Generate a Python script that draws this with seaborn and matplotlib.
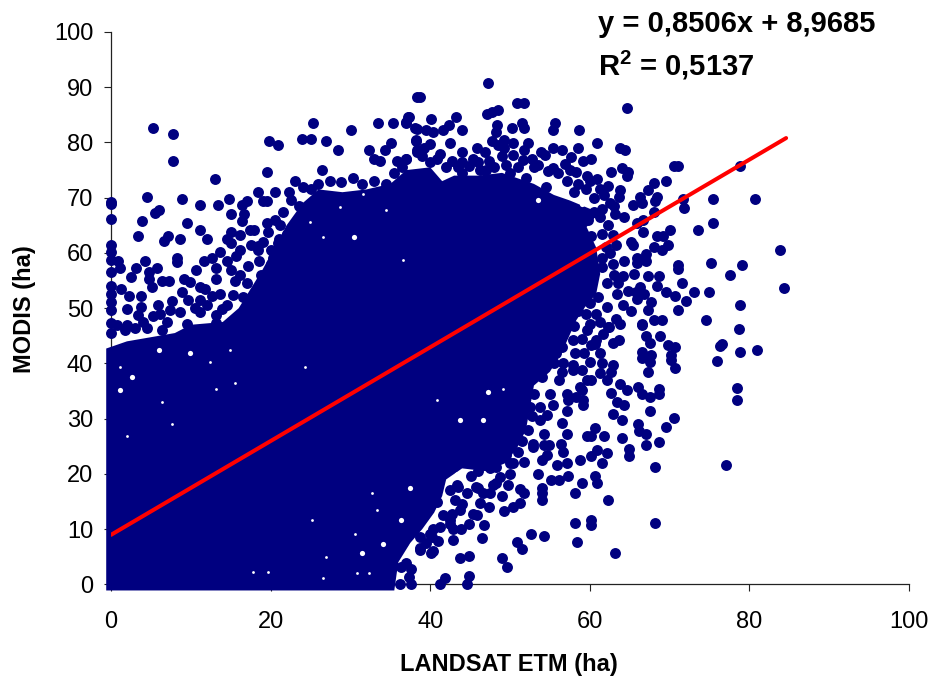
"""Dispersão MODIS x LANDSAT ETM com reta de tendência."""
import matplotlib
matplotlib.use("Agg")
import matplotlib.pyplot as plt
import pandas as pd
import seaborn as sns

# pontos, por região (LANDSAT, MODIS)
pts_left_edge = [(0, 69.2), (0, 68.8), (0, 66.2), (0, 61.4), (0, 60.2), (0, 58.7), (0, 56.5), (0, 54.1),
                 (0, 52.6), (0, 51.1), (0, 49.6), (0, 47.3), (0, 45.5)]
pts_upper_left = [(5.3, 82.65), (7.8, 81.5), (7.8, 76.6), (13.07, 73.4), (19.5, 74.6), (19.8, 80.2), (20.9, 79.5),
                  (23.9, 80.7), (25.1, 80.7), (25.3, 83.5), (27, 80.2), (28.4, 78.7), (30.1, 82.3), (33.4, 83.5),
                  (35.4, 83.5), (37, 83.7), (37.3, 84.7), (38.4, 88.2), (38.1, 82.65), (38.2, 80.2), (38.4, 78.6),
                  (32.3, 78.7), (32.9, 77), (33.7, 76.6), (34.3, 78.7), (35.1, 79.9), (35.9, 76.7), (37, 77),
                  (26.5, 75), (23.1, 73), (4.5, 70.2), (8.9, 69.8), (11.2, 68.6), (13.4, 68.6), (14.8, 69.8),
                  (17, 69.4), (16.4, 68.6), (18.4, 71), (19.1, 69.4), (19.6, 69.4), (20.6, 71), (22.3, 71),
                  (6, 67.8), (5.5, 67.3), (3.9, 65.8), (9.5, 65.4), (15.1, 67), (16.7, 67), (16.4, 65.8),
                  (11.2, 64.2), (3.4, 63), (7.2, 63), (6.6, 62.2), (8.6, 62.6), (12, 62.6), (15, 63.8),
                  (16.2, 63.2), (14.5, 62.6), (17.4, 64.2), (17.9, 64.2), (19.5, 65.4), (19.7, 63.8), (21.2, 65),
                  (24, 72), (25, 71.5), (26, 72.5), (27.5, 73), (28.8, 72.8), (30.3, 73.5), (31.5, 72.5),
                  (33, 73), (34.5, 72.5), (35.5, 74.5), (36.5, 75.5), (22.5, 69.5), (23.5, 68.5), (21.5, 67.5),
                  (20.5, 66), (22, 63.5), (21, 62.5), (19, 62), (17.5, 61.5), (20.3, 59), (18.5, 58.5)]
pts_mid_left = [(0.9, 58.5), (4.2, 58.5), (8.3, 59), (8.3, 58.4), (13.7, 60.2), (16.2, 60.6), (18.4, 61.2),
                (18.4, 60.5), (20, 60.6), (20.9, 61.8), (15.1, 61.8), (15.7, 59.4), (14.5, 58.5), (11.7, 58.5),
                (12.6, 59), (1.1, 57.3), (3.1, 57.3), (5.8, 57.3), (4.8, 56.5), (2.5, 55.6), (10.6, 56.9),
                (13.1, 57.3), (17.2, 57.7), (4.7, 55.3), (6.4, 55), (7.3, 55), (9.1, 55.3), (13.1, 55.3),
                (15.6, 55), (1.3, 53.5), (2.3, 52.2), (5.1, 53.8), (3.8, 52.2), (2, 49.9), (3.4, 48.7),
                (3.8, 50.2), (5.3, 48.5), (5.9, 50.5), (7.6, 51.3), (8.9, 52.9), (9.9, 54.7), (11.2, 53.8),
                (11.8, 53.5), (9.7, 51.4), (12.6, 52.2), (11.2, 51.4), (13.7, 52.6), (15.3, 52.3), (8.6, 49.3),
                (7.4, 49.6), (11.2, 49.3), (13.9, 49.9), (13.2, 48.7), (13.1, 47.3), (1.8, 46), (6.4, 46),
                (9.5, 47.2), (0.8, 47), (3, 46.5), (4.5, 46.5), (14.5, 46.5), (16, 48), (17, 50), (18, 53),
                (19.5, 55), (20, 58), (21.5, 60), (2, 47), (4, 47.5), (7, 47.5), (6.2, 49), (10.5, 50), (12, 50.5),
                (14.5, 50.5), (16.5, 52), (17, 54.5), (16.2, 56), (18.8, 56), (15, 57)]
pts_top = [(38.7, 88.3), (47.3, 90.7), (50.9, 87.1), (51.8, 87.1), (64.6, 86.3), (48.5, 85.9), (47.8, 85.5),
           (47.1, 85.1), (37.2, 84.7), (37, 83.5), (40.1, 84.3), (43.2, 84.7), (42.4, 83.1), (41.6, 82.3),
           (44, 82.3), (55.6, 83.5), (55.4, 82.3), (58.7, 82.3), (51.5, 83.5), (51.8, 82.6), (48.4, 83.1),
           (48.3, 81.9), (50.2, 82.6), (38.3, 82.5), (39.5, 82.2), (40.4, 81.9), (38.2, 80.4), (40, 79.8),
           (42.5, 79.9), (47.7, 80.2), (50.4, 79.9), (52.3, 79.9), (51.7, 78.7), (60.9, 79.9), (58.5, 79),
           (63.8, 79), (64.4, 78.7), (44, 78.2), (45.9, 79), (46.9, 78.2), (55.4, 79), (56.5, 78.7),
           (53.9, 78.2), (37, 77), (38.3, 78.2), (41.2, 78), (45.4, 77), (47.4, 76.7), (50.4, 77.7),
           (52.7, 77), (54.4, 77.7), (57.7, 77.3), (60.1, 77), (59.2, 76.6), (40, 76.4), (42.7, 76.7),
           (55.4, 75.4), (56.9, 76.1), (39, 77.5), (39.2, 79), (40.8, 77), (42, 75.5), (43.5, 75.5), (44.8, 75.8),
           (46.3, 75), (48, 75.5), (49.3, 79), (49, 77.5), (49.5, 76), (51, 75.5), (51.6, 76.8), (53, 75.5),
           (53.5, 76), (54.7, 74.8), (56, 74.5), (57.5, 75), (49.2, 80.5), (48.5, 79.5), (46, 76.5), (44, 76.5)]
pts_upper_right = [(62.6, 74.6), (64, 75.4), (64.8, 74.6), (64.6, 74), (70.5, 75.8), (71, 75.8), (78.8, 75.8),
                   (69.5, 73), (68, 72.6), (67.3, 71.4), (60.9, 73.4), (58.3, 74.6), (59.6, 74), (57.1, 73.1),
                   (58.5, 72.5), (62.3, 72.2), (63.8, 71.4), (63.6, 70.2), (66.3, 70.2), (65.4, 68.6), (66.5, 69),
                   (68.4, 70.2), (68.2, 69.4), (71.7, 69.8), (71.8, 68.2), (75.5, 69.8), (80.7, 69.8), (63.1, 67),
                   (64.3, 66.6), (68, 67.4), (61.3, 66.6), (75.5, 65.4), (73.5, 64.2), (70.1, 64.1), (66.7, 65.9),
                   (65.9, 65.4), (66.7, 63.8), (62.3, 65), (62.9, 63.2), (68.4, 63), (69.2, 63), (65.2, 62),
                   (65.4, 61.4), (69.8, 61.4), (69.1, 60.6), (68, 61), (83.8, 60.6), (67.1, 59.9), (65.9, 59),
                   (65.9, 58.1), (67.1, 58.5), (75.2, 58.2), (79.1, 57.8), (71, 57.8), (71, 57.1), (77.6, 56.1),
                   (64.3, 58.5), (62.9, 58), (58, 71), (59.5, 71.5), (60.5, 70), (61.8, 70.5), (60, 73), (61.3, 71.5),
                   (62.5, 69), (63, 68.5), (61.5, 68), (60.5, 67.5), (61.5, 63.5), (62, 61), (62.5, 60), (61.5, 59),
                   (63.3, 61.5), (61.5, 57.5), (63, 56), (64.2, 55.8), (65.5, 56.2), (62.2, 54.5), (63.5, 54.5)]
pts_right = [(67.3, 55.8), (68.7, 55.8), (68.4, 54.1), (71.5, 54.6), (73, 53), (74.9, 53), (84.3, 53.7), (69.5, 53),
             (70.7, 52.2), (72, 51.3), (66.3, 53.8), (64.8, 53.2), (65.9, 51.7), (67.7, 51.1), (67.3, 49.6),
             (78.8, 50.5), (71, 49.7), (63.4, 52.6), (62.1, 50.3), (65.2, 49.5), (60.8, 49), (63.3, 48.1),
             (63.8, 47.2), (66.5, 47.2), (68, 47.8), (69.1, 47.8), (74.6, 47.8), (78.7, 46.2), (62.3, 46.6),
             (60, 47.2), (76.3, 43.1), (76.6, 43.5), (78.8, 42.1), (81, 42.5), (76, 40.5), (78.5, 35.6),
             (78.5, 33.3), (77.1, 21.6), (68.2, 21.2), (68.2, 11.2), (63.2, 5.6), (62.3, 15.2), (60.1, 11.6),
             (60.1, 10.7), (58.2, 11.2), (58.4, 7.6), (59, 18.4), (58.2, 16.5), (60.9, 18.4), (60.7, 19.7),
             (61.5, 22), (62.1, 23.7), (60.9, 24.4), (60.2, 23.2), (64.9, 23.2), (64.9, 24.5), (64, 26.5),
             (61.8, 26.8), (60.7, 28.4), (59.6, 26.8), (60.2, 26.8), (58.8, 22.5), (60, 51), (61, 52),
             (59.5, 49), (61.3, 47.5), (64.2, 50.5), (65.8, 53), (66.8, 52.5)]
pts_lower_right = [(57.3, 19.7), (56.2, 18.9), (55.1, 18.9), (54, 17.4), (54, 16.5), (54, 15.2), (53.5, 20),
                   (55.9, 21.7), (57.1, 22), (56.7, 24), (56.4, 25.5), (54.6, 23.4), (54, 22.5), (54.3, 25.2),
                   (54.9, 25.2), (52.9, 25.5), (52.9, 24.8), (54.3, 27.2), (57.2, 27.3), (56.5, 29.3), (57.1, 31.4),
                   (54.6, 30.6), (53.7, 29.7), (55.4, 32.4), (59.2, 32.4), (62.9, 30.8), (64, 29.7), (66, 29),
                   (66.2, 27.7), (67.1, 27.2), (67.1, 25.2), (68.7, 25.7), (69.6, 28.5), (70.5, 30.1), (67.6, 31.3),
                   (64.3, 32.4), (63.4, 33), (62.6, 34.7), (63.8, 36.2), (64.6, 35.2), (66, 35.8), (66.5, 34.5),
                   (67.6, 34), (68.7, 35.3), (68.7, 34.4), (62.1, 37), (60.1, 37), (59, 35.2), (59.2, 33.3),
                   (57.3, 33.3), (62.9, 39.7), (62.7, 38.5), (61.3, 38.2), (67.3, 38.5), (67.5, 40.3), (66.5, 40.9),
                   (67.7, 41.5), (66.5, 42.1), (70.7, 39.2), (70.2, 40.6), (70.2, 41.5), (69.8, 43.3), (70.7, 42.9),
                   (67.6, 43.7), (67.1, 44.9), (68.8, 44.9), (62.9, 43.7), (63.6, 44.2), (60.6, 43.6), (60.2, 43.3),
                   (59, 44.5), (61.7, 45.4), (62.4, 46.6), (66.5, 46.9), (61.3, 41.8), (61.5, 40.1), (58.1, 41.8),
                   (59.3, 41.8), (57.9, 39.7), (59, 38.8), (56.5, 38.5), (55.8, 41.8), (57.9, 38.8), (59.6, 37),
                   (58.8, 35.8), (56.2, 37), (55, 34.5), (53.7, 32.1), (52.5, 32.1), (57.1, 34.5), (58.3, 34),
                   (60, 40.3), (56.7, 40), (57.9, 44.2), (59.6, 46), (60.8, 44.2), (56.5, 43), (58, 46.8)]
pts_bottom = [(49, 16), (49.3, 13.2), (50.4, 14), (51.2, 14.8), (51.2, 17.2), (51.8, 16.5), (46.8, 10.8), (46.5, 8.4),
              (42.9, 8), (52.6, 9.2), (54.3, 8.8), (50.9, 7.6), (51.5, 6.4), (49, 4.8), (49.6, 3.1), (43.7, 4.8),
              (44.8, 5.2), (40.1, 5.6), (40.4, 6.1), (38.7, 6.5), (36.6, 7.7), (44.8, 1.6), (44.6, 0), (41.8, 1.2),
              (41.2, 0), (37.6, 2.8), (37.3, 1.4), (37.6, 0), (36.4, 3.2), (36.2, 0), (47.4, 14), (45.9, 12.5),
              (44.8, 11), (43.9, 10), (42.9, 10), (40.4, 10), (40.2, 8.6), (42.5, 11), (38.7, 8.6), (38.3, 11.6),
              (45.1, 19.7), (49.8, 18), (47.9, 18), (46, 17.4), (43.5, 17.7), (47.5, 16.5), (46.2, 14.7),
              (43.1, 15.2), (42.7, 12.8), (40.8, 15), (50.4, 21.9), (51.7, 22.2), (50, 20), (48.3, 18.3), (42.9, 21.3),
              (43.3, 18), (44.6, 16.5), (45.8, 17.7), (46.6, 16.5), (42.5, 17), (43.7, 13.4), (45.4, 12.8), (42.5, 11.6),
              (41.2, 10.4), (50, 21.9), (48.7, 23.7), (48.3, 21.3), (48.7, 19.5), (38.7, 6.2), (40, 9.2), (37, 3.8),
              (41.6, 12.5), (41, 7.8), (39.5, 7.5), (44, 14.5), (46, 20.5), (47.5, 21), (49.5, 23.5), (51, 24)]
pts_edge = [(52.3, 28), (51.5, 26), (53, 34.5), (52.8, 30.5), (55.5, 40), (54, 37.5), (58.5, 49.5), (60, 54), (60.5, 57.5),
            (60.2, 63), (59.8, 66), (37.5, 73), (44, 74.5), (47, 75), (50, 74.5), (52, 73.5), (54.5, 72)]

# contorno da massa saturada, onde os pontos sobrepostos não se distinguem
core_x = [-0.6, -0.6, 2, 8, 10, 14, 16, 17.5, 19, 20.5, 22, 24, 26, 29, 32, 35, 37, 40, 41.5, 43, 46, 49, 51, 53, 55.5,
          57.5, 60, 61.3, 59.6, 60.8, 61.3, 60.8, 59.4, 58.3, 56.5, 55, 53, 52.5, 52, 51, 49.5, 47, 44, 42, 41.5, 40.5,
          39, 37.5, 36, 35.5]
core_y = [-1.1, 42.7, 44, 45.5, 47, 47.5, 50, 53.5, 57, 61, 65, 69, 71.5, 71, 71.5, 72.5, 75, 75.5, 73, 74, 74, 74.5,
          73.5, 72.5, 70.5, 69.5, 68, 67.5, 64.7, 61, 56.2, 52.6, 50.2, 47.8, 42, 38.5, 36, 32, 28, 25, 22, 20.5, 21, 19,
          16, 13, 10, 7.5, 4, -1.1]

# buracos brancos visíveis dentro da massa saturada
gap_big = [(2.6, 37.6), (1.1, 35.2), (9.9, 41.8), (6, 42.4), (30.4, 62.9), (31.4, 5.6), (43.3, 20), (47.3, 18.9),
           (36.4, 11.6), (34.1, 7.4), (47.3, 34.8), (43.7, 29.7), (46.6, 29.7), (53.5, 69.5), (59, 68.9), (60, 65.3),
           (54.6, 35.1), (37.5, 17.4)]
gap_small = [(1.1, 39.4), (12.4, 40.3), (13.2, 35.4), (6.4, 33), (14.9, 42.4), (24.3, 39.4), (15.6, 36.5), (2, 26.9),
             (7.6, 29.1), (17.8, 2.3), (19.7, 2.3), (26.6, 1.1), (27, 5), (30.6, 9.2), (32.7, 16.5), (30.8, 2), (32.3, 2),
             (25.2, 11.6), (33.3, 13.4), (28.7, 68.3), (31.6, 70.7), (34.5, 67.7), (24.9, 65.6), (26.6, 62.9),
             (36.6, 58.7), (40.8, 33.3), (49.1, 35.4), (58.8, 40.9)]

trend_x = [0, 84.6]
trend_y = [8.97, 80.8]

x_ticks = [0, 20, 40, 60, 80, 100]
y_ticks = [0, 10, 20, 30, 40, 50, 60, 70, 80, 90, 100]

sns.set_theme(style="white")
plt.rcParams["font.family"] = ["Liberation Sans", "DejaVu Sans"]
plt.rcParams["mathtext.fontset"] = "custom"
plt.rcParams["mathtext.bf"] = "Liberation Sans:bold"

AZUL = "#000080"
todos = (pts_left_edge + pts_upper_left + pts_mid_left + pts_top + pts_upper_right
         + pts_right + pts_lower_right + pts_bottom + pts_edge)
df = pd.DataFrame(todos, columns=["landsat", "modis"])
df_gap_big = pd.DataFrame(gap_big, columns=["landsat", "modis"])
df_gap_small = pd.DataFrame(gap_small, columns=["landsat", "modis"])

fig = plt.figure(figsize=(9.3, 6.79), dpi=100)
ax = fig.add_axes([111 / 930, (679 - 584.4) / 679, 798 / 930, 552.4 / 679])

ax.fill(core_x, core_y, color=AZUL, lw=0, clip_on=False, zorder=2)
sns.scatterplot(data=df_gap_big, x="landsat", y="modis", color="white", s=14, linewidth=0, zorder=2.5, ax=ax)
sns.scatterplot(data=df_gap_small, x="landsat", y="modis", color="white", s=4, linewidth=0, zorder=2.5, ax=ax)
sns.scatterplot(data=df, x="landsat", y="modis", color=AZUL, s=62, linewidth=0,
                clip_on=False, zorder=3, ax=ax)
sns.lineplot(x=trend_x, y=trend_y, color="#ff0000", lw=2.9, ax=ax, zorder=4,
             solid_capstyle="round", errorbar=None)

ax.set_xlim(0, 100)
ax.set_ylim(0, 100)
ax.set_xticks(x_ticks)
ax.set_yticks(y_ticks)
ax.set_axisbelow(True)
ax.tick_params(axis="y", direction="out", length=4.8, width=0.8, color="#222222",
               labelsize=17, labelcolor="black", pad=8, left=True)
ax.tick_params(axis="x", direction="out", length=4.8, width=0.8, color="#222222",
               labelsize=17, labelcolor="black", pad=14, bottom=True)
sns.despine(ax=ax)
for lado in ("left", "bottom"):
    ax.spines[lado].set_color("#222222")
    ax.spines[lado].set_linewidth(0.9)
    ax.spines[lado].set_zorder(1)

ax.set_xlabel("LANDSAT ETM (ha)", fontsize=17, fontweight="bold", color="black", va="center")
ax.xaxis.set_label_coords(509 / 930, 1 - 665 / 679, transform=fig.transFigure)
ax.set_ylabel("MODIS (ha)", fontsize=17, fontweight="bold", color="black", va="center")
ax.yaxis.set_label_coords(24 / 930, 1 - 309 / 679, transform=fig.transFigure)

fig.text(598 / 930, 1 - 24 / 679, "y = 0,8506x + 8,9685", fontsize=21, fontweight="bold",
         color="black", va="center", ha="left")
fig.text(598 / 930, 1 - 65 / 679, r"R$^{\mathbf{2}}$ = 0,5137", fontsize=21, fontweight="bold",
         color="black", va="center", ha="left")

fig.savefig("out.png", dpi=100)
